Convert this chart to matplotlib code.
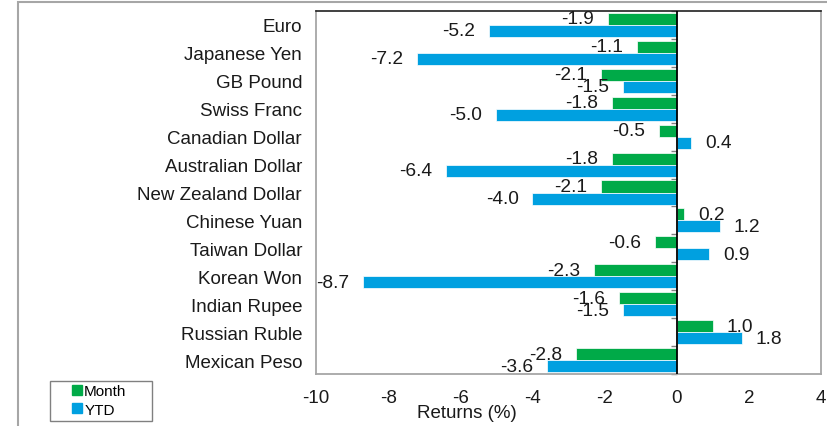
import matplotlib
matplotlib.use("Agg")
import matplotlib.pyplot as plt
from matplotlib.lines import Line2D
from matplotlib.patches import Rectangle
import numpy as np

plt.rcParams['font.family'] = ['Liberation Sans', 'DejaVu Sans']

categories = ["Euro", "Japanese Yen", "GB Pound", "Swiss Franc", "Canadian Dollar",
              "Australian Dollar", "New Zealand Dollar", "Chinese Yuan", "Taiwan Dollar",
              "Korean Won", "Indian Rupee", "Russian Ruble", "Mexican Peso"]
month = [-1.9, -1.1, -2.1, -1.8, -0.5, -1.8, -2.1, 0.2, -0.6, -2.3, -1.6, 1.0, -2.8]
ytd = [-5.2, -7.2, -1.5, -5.0, 0.4, -6.4, -4.0, 1.2, 0.9, -8.7, -1.5, 1.8, -3.6]
xticks = [-10, -8, -6, -4, -2, 0, 2, 4]
series_names = ["Month", "YTD"]

GREEN = "#00AA48"
BLUE = "#00A0E0"
GRAY = "#A6A6A6"

fig = plt.figure(figsize=(8.28, 4.27), dpi=100)
ax = fig.add_axes([316/828, 1 - 375/427, 505/828, 363/427])

y = np.arange(len(categories))
h = 0.43
ax.barh(y - h/2, month, height=h, color=GREEN, edgecolor="white", linewidth=0.5)
ax.barh(y + h/2, ytd, height=h, color=BLUE, edgecolor="white", linewidth=0.5)

for yi, v in zip(y - h/2, month):
    ax.annotate(f"{v:.1f}", (v, yi), xytext=(-10 if v < 0 else 10, 0),
                textcoords="offset points", ha="right" if v < 0 else "left",
                va="center", fontsize=13.8, color="#1a1a1a")
for yi, v in zip(y + h/2, ytd):
    ax.annotate(f"{v:.1f}", (v, yi), xytext=(-10 if v < 0 else 10, 0),
                textcoords="offset points", ha="right" if v < 0 else "left",
                va="center", fontsize=13.8, color="#1a1a1a")

ax.set_xlim(-10, 4)
ax.set_ylim(len(categories) - 0.5, -0.5)
ax.set_xticks(xticks)
ax.set_xticklabels([str(t) for t in xticks])
ax.set_yticks(y)
ax.set_yticklabels(categories)
ax.tick_params(axis="y", length=0, pad=10, labelsize=13.5, labelcolor="#1a1a1a")
ax.tick_params(axis="x", length=0, pad=11, labelsize=13.5, labelcolor="#1a1a1a")
ax.axvline(0, color="black", lw=1.3, zorder=3)

for s in ["left", "right", "bottom"]:
    ax.spines[s].set_color(GRAY)
    ax.spines[s].set_linewidth(1.3)
ax.spines["top"].set_color("#202020")
ax.spines["top"].set_linewidth(1.2)

# category boundary ticks on the zero line
sec = ax.secondary_yaxis(10/14)
sec.set_yticks(np.arange(len(categories) + 1) - 0.5)
sec.set_yticklabels([])
sec.tick_params(length=4, color="#808080", width=1, direction="in")
sec.spines["left"].set_visible(False)
sec.spines["right"].set_visible(False)

fig.text(467/828, 1 - 414/427, "Returns (%)", ha="center", va="center",
         fontsize=13.5, color="#1a1a1a")

# figure frame
fig.patches.append(Rectangle((18/828, -0.2), 1.2, 1 - 3/427 + 0.2,
                             transform=fig.transFigure, fill=False,
                             edgecolor=GRAY, lw=1.5))

# legend frame
fig.patches.append(Rectangle((50/828, 1 - 422/427), 102/828, 40/427,
                             transform=fig.transFigure, fill=False,
                             edgecolor="#808080", lw=1))
handles = [Line2D([], [], marker="s", ls="none", color=GREEN, markersize=7),
           Line2D([], [], marker="s", ls="none", color=BLUE, markersize=7)]
fig.legend(handles, series_names, loc="upper left",
           bbox_to_anchor=(72/828, 1 - 385/427), frameon=False,
           fontsize=11, handlelength=0.6, handletextpad=0.2,
           borderpad=0, borderaxespad=0, labelspacing=0.3)

fig.savefig("out.png", dpi=100)
